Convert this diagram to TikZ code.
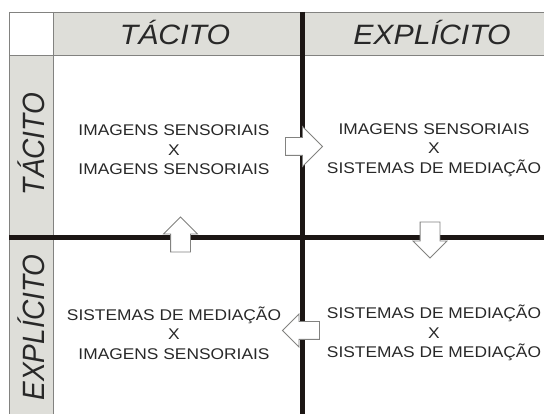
\documentclass[tikz,border=0pt]{standalone}
\usepackage{fontspec}
\setmainfont{Liberation Sans}
\usetikzlibrary{shapes.arrows}
\definecolor{hdrgray}{RGB}{222,222,217}
\definecolor{linegray}{RGB}{130,130,128}
\definecolor{thickline}{RGB}{28,22,20}
\definecolor{txt}{RGB}{40,40,40}
\tikzset{
  hdrcell/.style={fill=hdrgray, draw=none},
  thinline/.style={draw=linegray, line width=0.9pt},
  thickrule/.style={draw=thickline, line width=5pt},
  headtext/.style={font=\fontsize{28}{30}\selectfont\itshape, text=txt, inner sep=0pt, anchor=base},
  bodytext/.style={font=\fontsize{15.5}{19.5}\selectfont, text=txt, align=center, inner sep=0pt, xscale=1.12},
  flowarrow/.style={single arrow, draw=linegray, fill=white, line width=0.8pt, inner xsep=0pt, single arrow tip angle=90, minimum width=0pt},
}
\begin{document}
\begin{tikzpicture}[x=1pt,y=-1pt]
\useasboundingbox (0,0) rectangle (544,414);
\fill[white] (0,0) rectangle (544,414);
% gray header row and left column
\fill[hdrgray] (53,12) rectangle (544,55);
\fill[hdrgray] (9,55) rectangle (53,414);
% thin borders
\draw[thinline] (9,12) -- (544,12);
\draw[thinline] (9,55) -- (544,55);
\draw[thinline] (9,12) -- (9,414);
\draw[thinline] (53,12) -- (53,414);
% thick dividers
\coordinate (vtop) at (302,12);
\coordinate (vbot) at (302,414);
\coordinate (hl) at (9,238);
\coordinate (hr) at (544,238);
\draw[thickrule] (vtop) -- (vbot);
\draw[thickrule] (hl) -- (hr);
% headers
\node[headtext, xscale=1.08] (colT) at (175,45) {TÁCITO};
\node[headtext, xscale=1.08] (colE) at (432,45) {EXPLÍCITO};
\node[headtext, xscale=1.1, rotate=90] (rowT) at (45,144) {TÁCITO};
\node[headtext, xscale=1.1, rotate=90] (rowE) at (45,327.5) {EXPLÍCITO};
% quadrant texts
\node[bodytext] (q1) at (174,150) {IMAGENS SENSORIAIS\\X\\IMAGENS SENSORIAIS};
\node[bodytext] (q2) at (434,150) {IMAGENS SENSORIAIS\\X\\SISTEMAS DE MEDIAÇÃO};
\node[bodytext] (q3) at (174,333) {SISTEMAS DE MEDIAÇÃO\\X\\IMAGENS SENSORIAIS};
\node[bodytext] (q4) at (434,333) {SISTEMAS DE MEDIAÇÃO\\X\\SISTEMAS DE MEDIAÇÃO};
% arrows
\node[flowarrow, inner ysep=8.5pt, minimum height=37pt, single arrow head extend=11pt] (a1) at (299.5,146.5) {};
\node[flowarrow, inner ysep=9.5pt, minimum height=36pt, single arrow head extend=7pt, rotate=-90] (a2) at (430,235) {};
\node[flowarrow, inner ysep=8.5pt, minimum height=37pt, single arrow head extend=7.5pt, rotate=180] (a3) at (305.5,330.5) {};
\node[flowarrow, inner ysep=9.5pt, minimum height=35pt, single arrow head extend=7pt, rotate=90] (a4) at (180.5,239.5) {};
\end{tikzpicture}
\end{document}
